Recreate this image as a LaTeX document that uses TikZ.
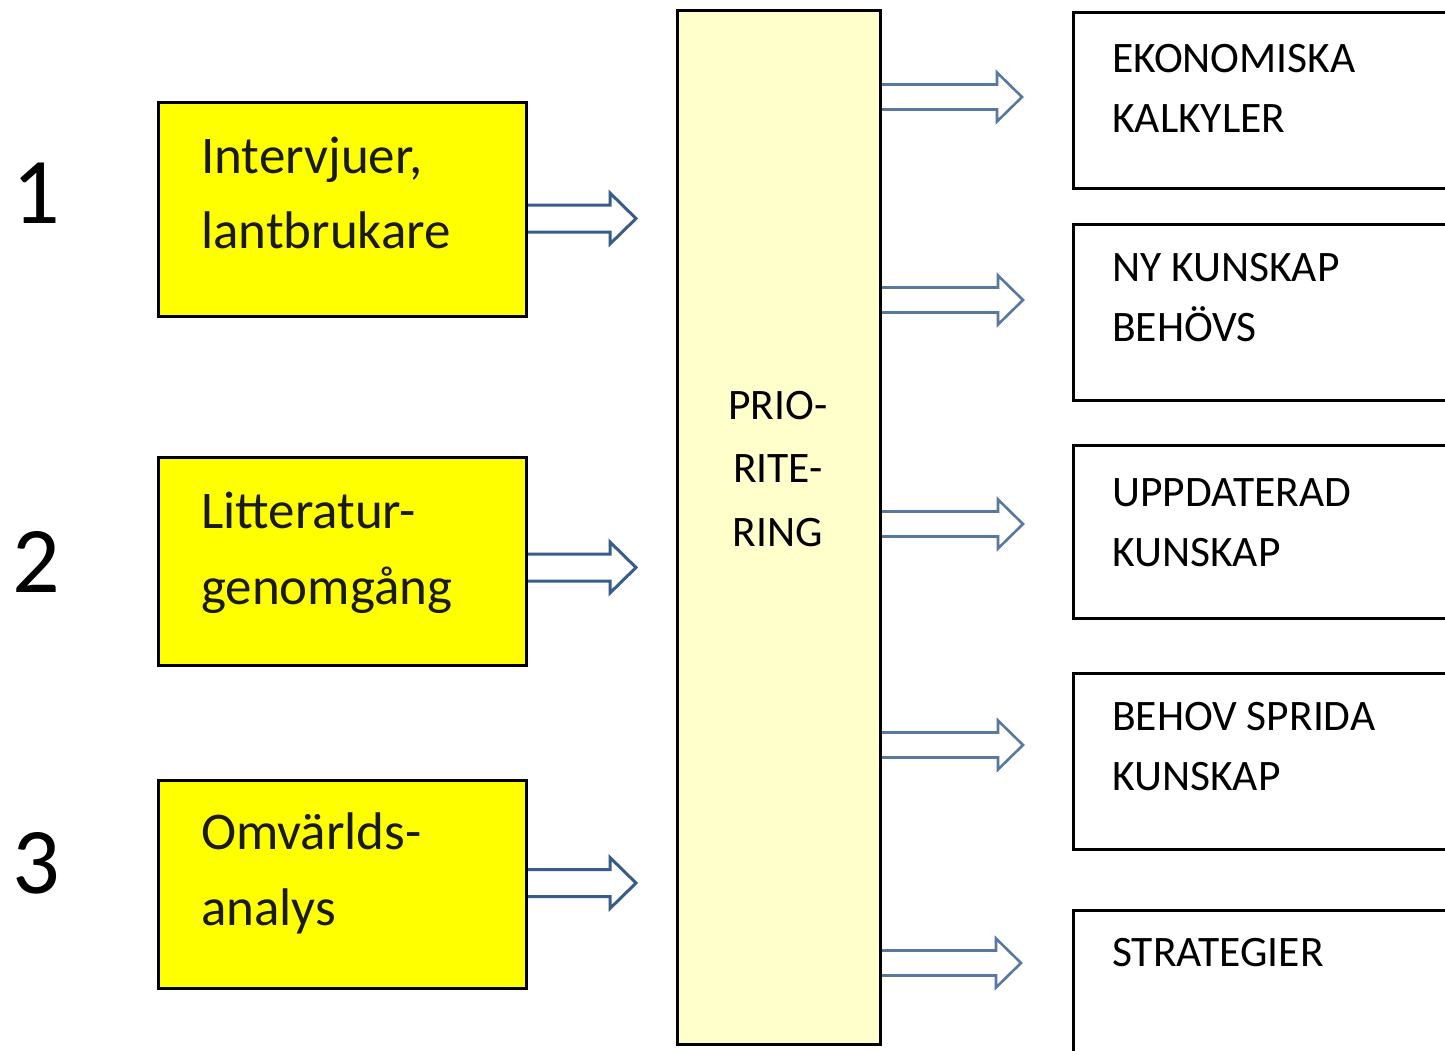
\documentclass[tikz,border=0pt]{standalone}
\usepackage{fontspec}
\setmainfont{Carlito}
\usetikzlibrary{calc}
\definecolor{prioFill}{HTML}{FFFFCC}
\definecolor{boxYellow}{HTML}{FFFF00}
\definecolor{arrowDark}{HTML}{385D8A}
\definecolor{arrowLight}{HTML}{5878A2}
\definecolor{txtDark}{HTML}{1A1A1A}
\newcommand\hollowarrow[6]{%
  \draw[#1] let \p1=(#2), \p2=(#3) in
    (\x1,\y1+#4) -- (\x2-#6,\y1+#4) -- (\x2-#6,\y1+#5) -- (\x2,\y1)
    -- (\x2-#6,\y1-#5) -- (\x2-#6,\y1-#4) -- (\x1,\y1-#4);}
\tikzset{
  ybox/.style={draw=black, fill=boxYellow, line width=3pt, inner sep=0pt, minimum width=368pt},
  prbox/.style={draw=black, fill=prioFill, line width=3pt, inner sep=0pt},
  rbox/.style={draw=black, fill=white, line width=3pt, inner sep=0pt, anchor=north west, minimum width=430pt},
  ytext/.style={anchor=base west, inner sep=0pt, text=txtDark, font=\fontsize{53}{60}\selectfont},
  rtext/.style={anchor=base west, inner sep=0pt, text=black, font=\fontsize{43.5}{50}\selectfont},
  ptext/.style={anchor=base, inner sep=0pt, text=black, font=\fontsize{43.5}{50}\selectfont},
  numtext/.style={anchor=base, inner sep=0pt, text=black, font=\fontsize{94}{100}\selectfont},
  larrow/.style={draw=arrowDark, fill=white, line width=3pt, line join=miter},
  rarrow/.style={draw=arrowLight, fill=white, line width=2.6pt, line join=miter},
}
\begin{document}
\begin{tikzpicture}[x=1pt,y=-1pt]
\useasboundingbox (0,0) rectangle (1445,1050);
\clip (0,0) rectangle (1445,1050);
\fill[white] (0,0) rectangle (1445,1050);

% numbers
\node[numtext] (n1) at (36,223) {1};
\node[numtext] (n2) at (36,592) {2};
\node[numtext] (n3) at (36,893) {3};

% yellow boxes
\node[ybox, minimum height=214pt] (b1) at (342.5,209.5) {};
\node[ybox, minimum height=208pt] (b2) at (342.5,561) {};
\node[ybox, minimum height=208pt] (b3) at (342.5,884) {};

\node[ytext] (b1a) at (201,173) {Intervjuer,};
\node[ytext] (b1b) at (201,248) {lantbrukare};
\node[ytext] (b2a) at (201,528) {Litteratur-};
\node[ytext] (b2b) at (201,604) {genomgång};
\node[ytext] (b3a) at (201,849) {Omvärlds-};
\node[ytext] (b3b) at (201,925) {analys};

% prioritering box
\node[prbox, minimum width=203pt, minimum height=1034pt] (prio) at (779,527.5) {};
\node[ptext] (p1) at (778,419) {PRIO-};
\node[ptext] (p2) at (778,482) {RITE-};
\node[ptext] (p3) at (778,546) {RING};

% right boxes
\node[rbox, minimum height=176pt] (r1) at (1071.5,10.5) {};
\node[rbox, minimum height=176pt] (r2) at (1071.5,222.5) {};
\node[rbox, minimum height=173pt] (r3) at (1071.5,444) {};
\node[rbox, minimum height=176pt] (r4) at (1071.5,672) {};
\node[rbox, minimum height=200pt] (r5) at (1071.5,909) {};

\node[rtext] (r1a) at (1112,72) {EKONOMISKA};
\node[rtext] (r1b) at (1112,132) {KALKYLER};
\node[rtext] (r2a) at (1112,281) {NY KUNSKAP};
\node[rtext] (r2b) at (1112,341) {BEHÖVS};
\node[rtext] (r3a) at (1112,506) {UPPDATERAD};
\node[rtext] (r3b) at (1112,566) {KUNSKAP};
\node[rtext] (r4a) at (1112,730) {BEHOV SPRIDA};
\node[rtext] (r4b) at (1112,790) {KUNSKAP};
\node[rtext] (r5a) at (1112,966) {STRATEGIER};

% arrow tips
\coordinate (lt1) at (636,218.5);
\coordinate (lt2) at (636,567.5);
\coordinate (lt3) at (636,883);
\coordinate (rt1) at (1022,97);
\coordinate (rt2) at (1023,300);
\coordinate (rt3) at (1023,524);
\coordinate (rt4) at (1023,745);
\coordinate (rt5) at (1021,963);

% left arrows
\hollowarrow{larrow}{b1.east |- lt1}{lt1}{13.5pt}{25.5pt}{26pt}
\hollowarrow{larrow}{b2.east |- lt2}{lt2}{13.5pt}{25.5pt}{26pt}
\hollowarrow{larrow}{b3.east |- lt3}{lt3}{13.5pt}{25.5pt}{26pt}

% right arrows
\hollowarrow{rarrow}{prio.east |- rt1}{rt1}{12.5pt}{24.5pt}{25pt}
\hollowarrow{rarrow}{prio.east |- rt2}{rt2}{12.5pt}{24.5pt}{25pt}
\hollowarrow{rarrow}{prio.east |- rt3}{rt3}{12.5pt}{24.5pt}{25pt}
\hollowarrow{rarrow}{prio.east |- rt4}{rt4}{12.5pt}{24.5pt}{25pt}
\hollowarrow{rarrow}{prio.east |- rt5}{rt5}{12.5pt}{24.5pt}{25pt}
\end{tikzpicture}
\end{document}
